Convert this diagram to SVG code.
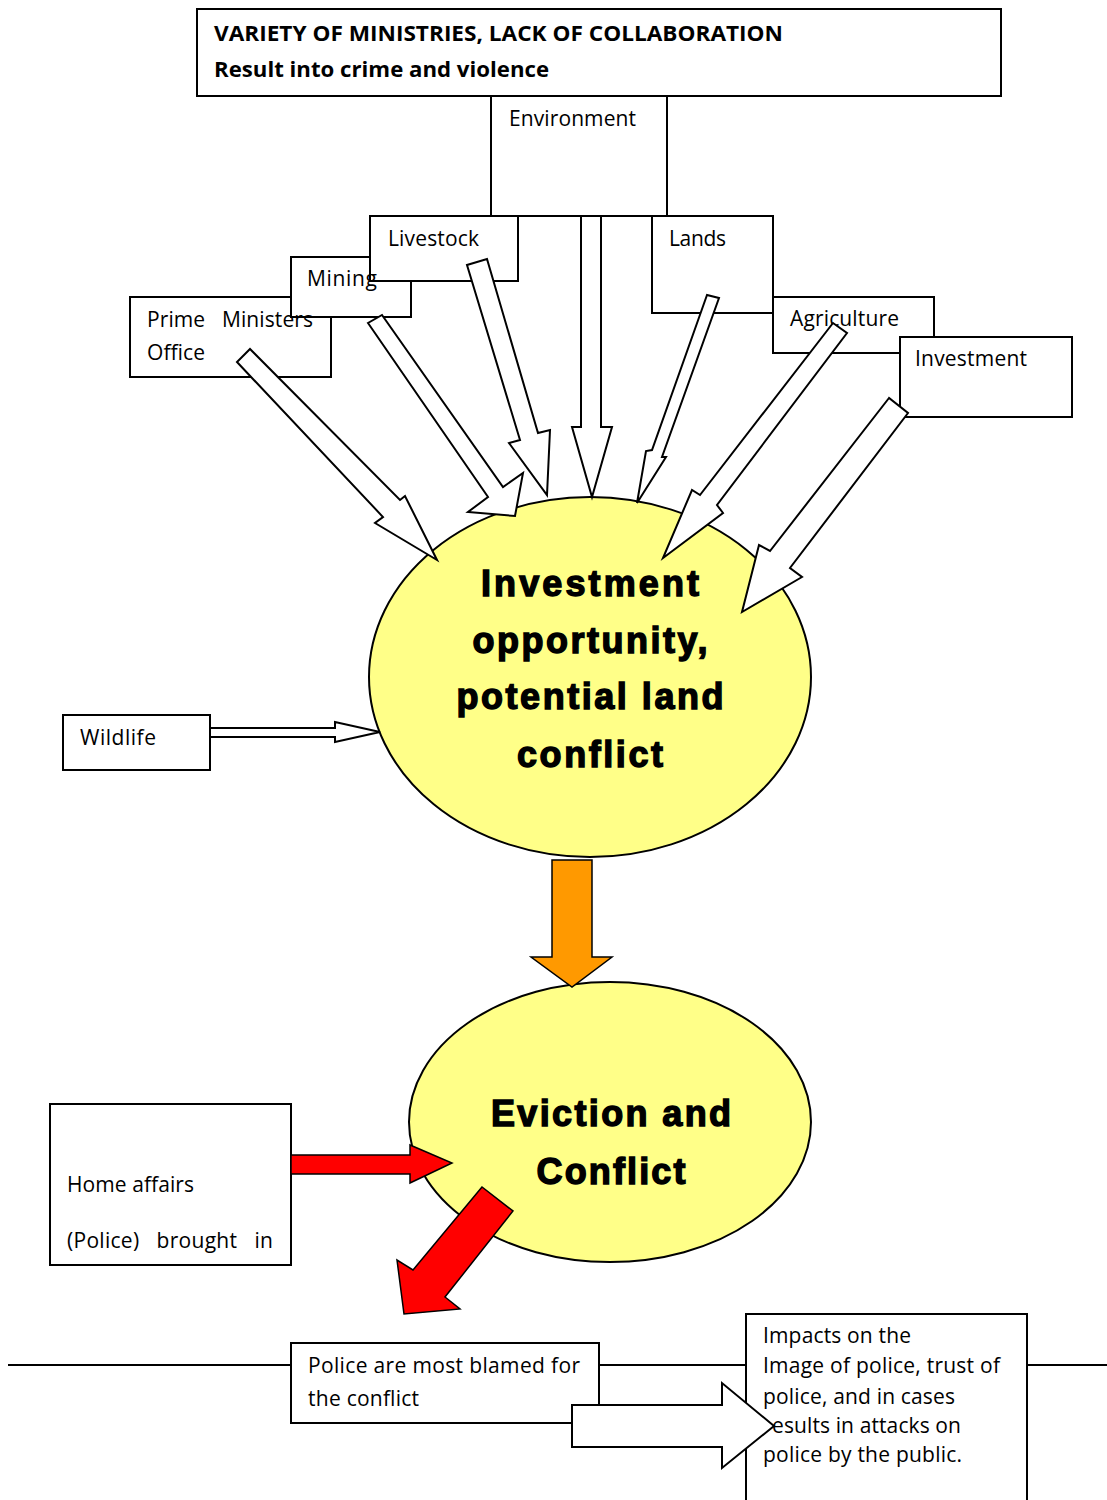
<svg xmlns="http://www.w3.org/2000/svg" width="1107" height="1500" viewBox="0 0 1107 1500">
<style>
.box{fill:#fff;stroke:#000;stroke-width:2}
.t{font-family:"Open Sans","Liberation Sans",sans-serif;font-size:21px;fill:#000}
.tb{font-family:"Open Sans","Liberation Sans",sans-serif;font-size:22px;font-weight:bold;fill:#000}
.big{font-family:"Liberation Sans",Arial,sans-serif;font-size:36px;font-weight:bold;fill:#000;stroke:#000;stroke-width:1.4;text-anchor:middle}
.ell{fill:#FFFF88;stroke:#000;stroke-width:2}
.wa{fill:#fff;stroke:#000;stroke-width:2;stroke-linejoin:miter}
.ra{fill:#FF0000;stroke:#000;stroke-width:1.5}
.oa{fill:#FF9900;stroke:#000;stroke-width:1.5}
.ln{stroke:#000;stroke-width:2;fill:none}
</style>
<rect width="1107" height="1500" fill="#fff"/>
<g id="connector-line">
<line class="ln" x1="8" y1="1365" x2="1107" y2="1365"/>
</g>
<g id="title">
<rect class="box" x="197" y="9" width="804" height="87"/>
<text class="tb" x="214" y="41" textLength="569" lengthAdjust="spacingAndGlyphs">VARIETY OF MINISTRIES, LACK OF COLLABORATION</text>
<text class="tb" x="214" y="77" textLength="335" lengthAdjust="spacingAndGlyphs">Result into crime and violence</text>
</g>
<g id="environment">
<rect class="box" x="491" y="96" width="176" height="120"/>
<text class="t" x="509" y="126" textLength="127">Environment</text>
</g>
<g id="livestock">
<rect class="box" x="370" y="216" width="148" height="65"/>
<text class="t" x="388" y="246" textLength="91">Livestock</text>
</g>
<g id="mining">
<polygon class="box" points="291,257 370,257 370,281 411,281 411,317 291,317"/>
<text class="t" x="307" y="286" textLength="70">Mining</text>
</g>
<g id="prime-ministers-office">
<polygon class="box" points="130,297 291,297 291,317 331,317 331,377 130,377"/>
<text class="t" x="147" y="327" textLength="166" xml:space="preserve">Prime   Ministers</text>
<text class="t" x="147" y="360" textLength="58">Office</text>
</g>
<g id="lands">
<rect class="box" x="652" y="216" width="121" height="97"/>
<text class="t" x="669" y="246" textLength="57">Lands</text>
</g>
<g id="agriculture">
<rect class="box" x="773" y="297" width="161" height="56"/>
<text class="t" x="790" y="326" textLength="109">Agriculture</text>
</g>
<g id="investment">
<rect class="box" x="900" y="337" width="172" height="80"/>
<text class="t" x="915" y="366" textLength="112">Investment</text>
</g>
<g id="investment-opportunity">
<ellipse class="ell" cx="590" cy="677" rx="221" ry="180"/>
<text class="big" x="590" y="596" textLength="218">Investment</text>
<text class="big" x="590" y="653" textLength="235">opportunity,</text>
<text class="big" x="590" y="709" textLength="267">potential land</text>
<text class="big" x="590" y="767" textLength="146">conflict</text>
</g>
<g id="wildlife">
<rect class="box" x="63" y="715" width="147" height="55"/>
<text class="t" x="80" y="745" textLength="76">Wildlife</text>
</g>
<g id="eviction">
<ellipse class="ell" cx="610" cy="1122" rx="201" ry="140"/>
<text class="big" x="611" y="1126" textLength="240">Eviction and</text>
<text class="big" x="611" y="1184" textLength="149">Conflict</text>
</g>
<g id="home-affairs">
<rect class="box" x="50" y="1104" width="241" height="161"/>
<text class="t" x="67" y="1192" textLength="127">Home affairs</text>
<text class="t" x="67" y="1248" textLength="206" xml:space="preserve">(Police)   brought   in</text>
</g>
<g id="police-blamed">
<rect class="box" x="291" y="1343" width="308" height="80"/>
<text class="t" x="308" y="1373" textLength="272">Police are most blamed for</text>
<text class="t" x="308" y="1406" textLength="111">the conflict</text>
</g>
<g id="impacts">
<rect class="box" x="746" y="1314" width="281" height="200"/>
<text class="t" x="763" y="1343" textLength="148">Impacts on the</text>
<text class="t" x="763" y="1373" textLength="237">Image of police, trust of</text>
<text class="t" x="763" y="1404" textLength="192">police, and in cases</text>
<text class="t" x="772" y="1433" textLength="189">esults in attacks on</text>
<text class="t" x="763" y="1462" textLength="199">police by the public.</text>
</g>
<g id="connectors">
<polygon class="wa" points="237,362 383,517 375,523 437,560 405,496 400,500 250,349"/>
<polygon class="wa" points="368,323 488,497 468,512 515,516 523,473 503,487 382,315"/>
<polygon class="wa" points="467,265 520,440 509,443 547,495 550,430 538,433 487,259"/>
<polygon class="wa" points="581,216 581,427 572,427 592,497 612,427 601,427 601,216"/>
<polygon class="wa" points="707,295 652,450 646,451 637,503 666,457 662,457 719,298"/>
<polygon class="wa" points="833,323 700,495 692,490 663,558 723,513 717,505 847,333"/>
<polygon class="wa" points="889,398 770,551 759,545 742,612 802,577 790,568 908,413"/>
<polygon class="wa" points="210,728 335,728 335,722 380,732 335,742 335,737 210,737"/>
<polygon class="oa" points="552,860 592,860 592,957 612,957 572,987 531,957 552,957"/>
<polygon class="ra" points="291,1155 410,1155 410,1145 452,1163 410,1183 410,1174 291,1174"/>
<polygon class="ra" points="482,1187 413,1270 397,1260 404,1314 460,1309 445,1297 513,1211"/>
<polygon class="wa" points="572,1405 722,1405 722,1383 774,1426 722,1468 722,1447 572,1447"/>
</g>
</svg>
